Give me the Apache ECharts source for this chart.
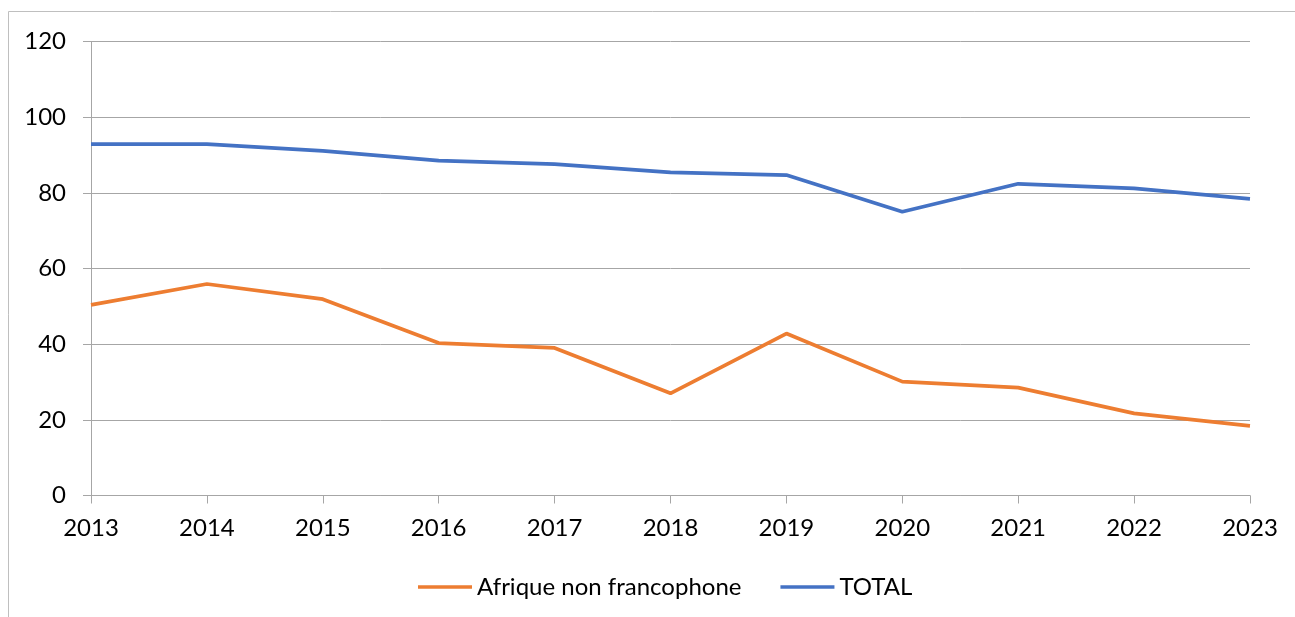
<!DOCTYPE html>
<html>
<head>
<meta charset="utf-8">
<script src="https://cdn.jsdelivr.net/npm/echarts@6/dist/echarts.min.js"></script>
<style>
  html, body { margin: 0; padding: 0; background: #fff; }
  #chart { width: 1295px; height: 617px; }
</style>
</head>
<body>
<div id="chart"></div>
<script>
    // donnees
    var years = ['2013', '2014', '2015', '2016', '2017', '2018', '2019', '2020', '2021', '2022', '2023'];
    var seriesNames = ['Afrique non francophone', 'TOTAL'];
    var afriqueNonFrancophone = [50.4, 55.9, 51.9, 40.3, 39.0, 27.0, 42.8, 30.1, 28.5, 21.7, 18.4];
    var total = [92.9, 92.9, 91.1, 88.5, 87.6, 85.4, 84.7, 75.0, 82.4, 81.2, 78.4];
    var colors = ['#ED7D31', '#4472C4'];

    var myChart = echarts.init(document.getElementById('chart'));

    var temp_series = [];
    var series_data = [afriqueNonFrancophone, total];
    for (var i = 0; i < series_data.length; i++) {
        temp_series.push({
            name: seriesNames[i],
            type: 'line',
            data: series_data[i],
            showSymbol: false,
            symbol: 'none',
            lineStyle: { width: 3.75, color: colors[i] },
            itemStyle: { color: colors[i] }
        });
    }

    var labelFont = { fontFamily: 'Lato', fontSize: 24, color: '#000' };

    var option = {
        animation: false,
        textStyle: { fontFamily: 'Lato' },
        graphic: [{
            type: 'rect',
            shape: { x: 8.5, y: 11.5, width: 1400, height: 700 },
            style: { fill: 'none', stroke: '#BFBFBF', lineWidth: 1 },
            silent: true
        }],
        grid: { left: 91, right: 45, top: 41.5, bottom: 121.5 },
        legend: {
            data: seriesNames,
            bottom: 13,
            left: 413,
            icon: 'rect',
            itemWidth: 54,
            itemHeight: 3.5,
            itemGap: 39,
            textStyle: labelFont
        },
        xAxis: [{
            type: 'category',
            data: years,
            boundaryGap: false,
            axisLine: { lineStyle: { color: '#A6A6A6', width: 1 } },
            axisTick: { show: true, length: 8, alignWithLabel: true, lineStyle: { color: '#A6A6A6' } },
            axisLabel: Object.assign({ margin: 21 }, labelFont),
            splitLine: { show: false }
        }],
        yAxis: [{
            type: 'value',
            min: 0,
            max: 120,
            interval: 20,
            axisLine: { show: true, lineStyle: { color: '#A6A6A6', width: 1 } },
            axisTick: { show: true, length: 8, lineStyle: { color: '#A6A6A6' } },
            axisLabel: Object.assign({ margin: 25 }, labelFont),
            splitLine: { show: true, lineStyle: { color: '#A6A6A6', width: 1 } }
        }],
        series: temp_series
    };

    myChart.setOption(option);
</script>
</body>
</html>
